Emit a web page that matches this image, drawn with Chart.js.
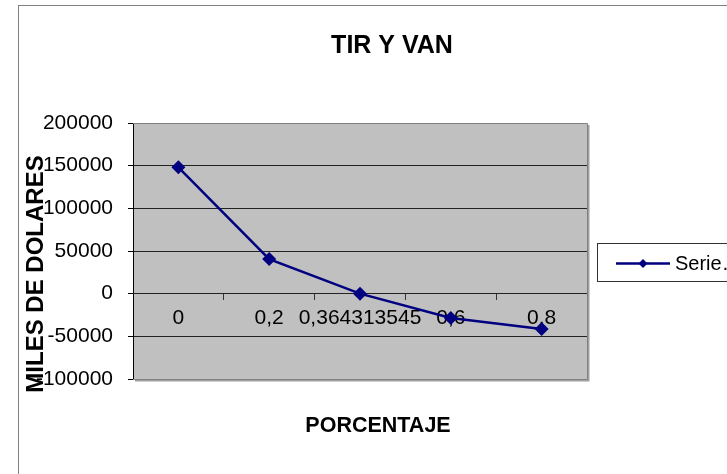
<!DOCTYPE html>
<html>
<head>
<meta charset="utf-8">
<script src="https://cdn.jsdelivr.net/npm/chart.js@4.4.1/dist/chart.umd.min.js"></script>
<style>
html,body{margin:0;padding:0;background:#fff;}
#wrap{width:727px;height:474px;position:relative;}
</style>
</head>
<body>
<div id="wrap"><canvas id="c" width="727" height="474"></canvas></div>
<script>
const categories = ['0', '0,2', '0,364313545', '0,6', '0,8'];
const vanValues = [148000, 40500, 0, -28500, -41300];
const seriesLabel = 'Serie1';
const chartTitle = 'TIR Y VAN';
const xTitle = 'PORCENTAJE';
const yTitle = 'MILES DE DOLARES';

const NAVY = '#000080';
const FONT = '"Liberation Sans", Arial, sans-serif';

const decor = {
  id: 'decor',
  beforeDraw(chart) {
    const {ctx, chartArea: a} = chart;
    ctx.save();
    ctx.fillStyle = '#ffffff';
    ctx.fillRect(0, 0, chart.width, chart.height);
    ctx.strokeStyle = '#808080';
    ctx.lineWidth = 1;
    ctx.strokeRect(18.5, 5.5, chart.width + 20, chart.height + 20);
    ctx.fillStyle = '#c0c0c0';
    ctx.fillRect(a.left, a.top, a.right - a.left, a.bottom - a.top);
    ctx.restore();
  },
  afterDraw(chart) {
    const {ctx, chartArea: a} = chart;
    ctx.save();
    ctx.strokeStyle = '#a0a0a0';
    ctx.lineWidth = 2;
    ctx.beginPath();
    ctx.moveTo(a.right + 1.5, a.top + 2);
    ctx.lineTo(a.right + 1.5, a.bottom + 1.5);
    ctx.lineTo(a.left + 2, a.bottom + 1.5);
    ctx.stroke();
    ctx.strokeStyle = '#808080';
    ctx.lineWidth = 1;
    ctx.beginPath();
    ctx.moveTo(a.left, a.top + 0.5);
    ctx.lineTo(a.right + 0.5, a.top + 0.5);
    ctx.lineTo(a.right + 0.5, a.bottom + 0.5);
    ctx.lineTo(a.left, a.bottom + 0.5);
    ctx.stroke();

    ctx.fillStyle = '#000';
    ctx.textAlign = 'center';
    ctx.textBaseline = 'alphabetic';
    ctx.font = 'bold 25px ' + FONT;
    ctx.fillText(chartTitle, 392, 53);
    ctx.font = 'bold 21.5px ' + FONT;
    ctx.fillText(xTitle, 378, 432);
    ctx.save();
    ctx.translate(43, 274);
    ctx.rotate(-Math.PI / 2);
    ctx.font = 'bold 24px ' + FONT;
    ctx.fillText(yTitle, 0, 0);
    ctx.restore();

    const ds = chart.data.datasets[0];
    ctx.fillStyle = '#ffffff';
    ctx.fillRect(597, 243, 200, 39);
    ctx.strokeStyle = '#333333';
    ctx.lineWidth = 1;
    ctx.strokeRect(597.5, 243.5, 200, 38);
    ctx.strokeStyle = ds.borderColor;
    ctx.lineWidth = 2.5;
    ctx.beginPath();
    ctx.moveTo(616, 263.5);
    ctx.lineTo(670, 263.5);
    ctx.stroke();
    ctx.fillStyle = ds.backgroundColor;
    ctx.beginPath();
    ctx.moveTo(643, 259);
    ctx.lineTo(647.5, 263.5);
    ctx.lineTo(643, 268);
    ctx.lineTo(638.5, 263.5);
    ctx.closePath();
    ctx.fill();
    ctx.fillStyle = '#000';
    ctx.textAlign = 'left';
    ctx.textBaseline = 'middle';
    ctx.font = '20px ' + FONT;
    let txt = ds.label;
    const avail = chart.width - 675;
    if (ctx.measureText(txt).width > avail) {
      while (txt.length > 1 && ctx.measureText(txt).width > avail) txt = txt.slice(0, -1);
      txt = txt + '\u2026';
    }
    ctx.fillText(txt, 675, 264);
    ctx.restore();
  }
};

new Chart(document.getElementById('c'), {
  type: 'line',
  data: {
    labels: categories,
    datasets: [{
      label: seriesLabel,
      data: vanValues,
      borderColor: NAVY,
      backgroundColor: NAVY,
      borderWidth: 2.5,
      pointStyle: 'rectRot',
      pointRadius: 7,
      pointHoverRadius: 7,
      pointBorderWidth: 0,
      tension: 0
    }]
  },
  options: {
    responsive: false,
    animation: false,
    devicePixelRatio: 1,
    layout: { padding: { left: 0, right: 140, top: 123, bottom: 95 } },
    plugins: {
      legend: { display: false },
      title: { display: false },
      tooltip: { enabled: false }
    },
    scales: {
      y: {
        min: -100000,
        max: 200000,
        afterFit(scale) { scale.width = 133; },
        ticks: {
          stepSize: 50000,
          color: '#000',
          padding: 15,
          font: { family: FONT, size: 21 },
          callback: (v) => String(v)
        },
        grid: {
          color: '#222',
          lineWidth: 1,
          tickLength: 5,
          tickColor: '#000'
        },
        border: { display: true, color: '#000', width: 1 }
      },
      x: {
        type: 'category',
        position: { y: 0 },
        offset: true,
        ticks: {
          color: '#000',
          padding: 6,
          autoSkip: false,
          maxRotation: 0,
          font: { family: FONT, size: 21 }
        },
        grid: {
          offset: true,
          drawOnChartArea: false,
          drawTicks: true,
          tickLength: 6,
          tickColor: '#333'
        },
        border: { display: true, color: '#222', width: 1 }
      }
    }
  },
  plugins: [decor]
});
</script>
</body>
</html>
